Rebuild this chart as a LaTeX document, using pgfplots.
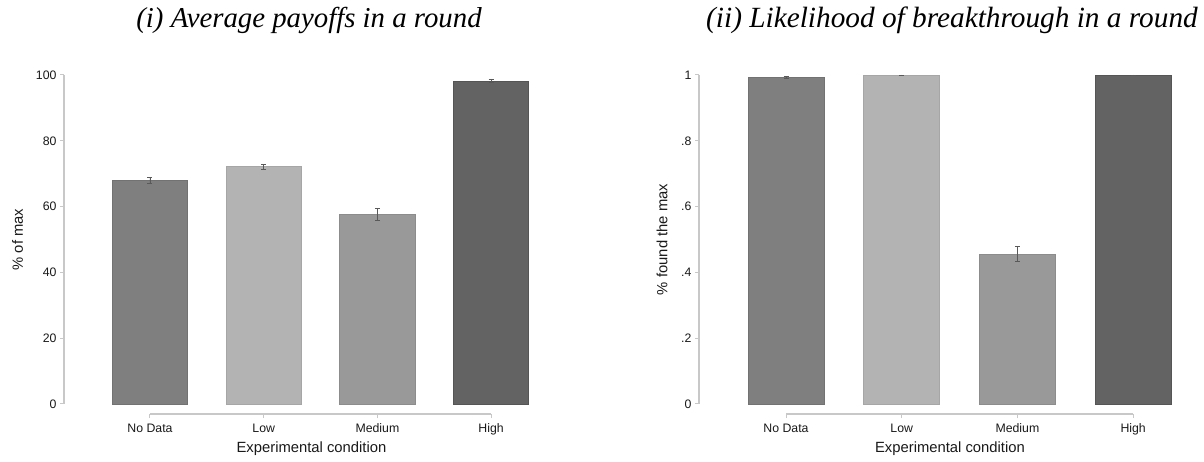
\documentclass[border=0pt]{standalone}
\usepackage{pgfplots}
\pgfplotsset{compat=1.18}
\usepackage{fontspec}
\setmainfont{Liberation Sans}
\newfontfamily\titlefont{Liberation Serif}
\definecolor{axgray}{HTML}{C8C8C8}
\definecolor{cND}{HTML}{7F7F7F}
\definecolor{cLow}{HTML}{B3B3B3}
\definecolor{cMed}{HTML}{999999}
\definecolor{cHigh}{HTML}{636363}
\definecolor{eND}{HTML}{727272}
\definecolor{eLow}{HTML}{A6A6A6}
\definecolor{eMed}{HTML}{8C8C8C}
\definecolor{eHigh}{HTML}{555555}
\begin{document}
\begin{tikzpicture}
\useasboundingbox (0,0) rectangle (1204bp,462bp);
\pgfplotsset{
  statastyle/.style={
    scale only axis,
    anchor=south west,
    height=339bp,
    xmax=3.5,
    clip=false,
    axis x line*=bottom,
    axis y line*=left,
    axis line style={draw=none},
    tick align=outside,
    major tick length=4bp,
    tick style={axgray, line width=1bp},
    xtick={0,1,2,3},
    xticklabels={No Data,Low,Medium,High},
    tick label style={font=\fontsize{12.3bp}{14bp}\selectfont, text=black!90},
    xticklabel style={text height=9bp, text depth=2.6bp, yshift=-1.5bp},
    label style={font=\fontsize{14.8bp}{17bp}\selectfont, text=black!90},
    ybar,
    bar shift=0pt,
    error bars/y dir=both,
    error bars/y explicit,
    error bars/error mark=-,
    error bars/error bar style={black!65, line width=0.8bp},
    error bars/error mark options={rotate=90, black!65, line width=0.8bp, mark size=2.5bp},
  },
}
% ---------- left panel ----------
\begin{axis}[statastyle,
  at={(64bp,48bp)},
  width=484bp,
  xmin=-0.756,
  ymin=-3.04, ymax=100,
  bar width=0.66,
  ytick={0,20,40,60,80,100},
  yticklabels={0,20,40,60,80,100},
  xlabel={Experimental condition},
  xlabel style={at={([yshift=-35bp]axis cs:1.42,-3.04)}, anchor=center},
  ylabel={\% of max},
  ylabel style={at={([xshift=-46.5bp]axis cs:-0.756,50)}, anchor=center},
]
\addplot[fill=cND, draw=eND, line width=0.8bp] coordinates {(0,67.9) +- (0,1.0)};
\addplot[fill=cLow, draw=eLow, line width=0.8bp] coordinates {(1,72.1) +- (0,0.7)};
\addplot[fill=cMed, draw=eMed, line width=0.8bp] coordinates {(2,57.6) +- (0,1.9)};
\addplot[fill=cHigh, draw=eHigh, line width=0.8bp] coordinates {(3,98.2) +- (0,0.6)};
\draw[axgray, line width=1.2bp] (axis cs:0,-3.04) -- (axis cs:3,-3.04);
\draw[axgray, line width=1.2bp] (axis cs:-0.756,0) -- (axis cs:-0.756,100);
\end{axis}
% ---------- right panel ----------
\begin{axis}[statastyle,
  at={(699bp,48bp)},
  width=492bp,
  xmin=-0.752,
  ymin=-0.0304, ymax=1,
  bar width=0.657,
  ytick={0,0.2,0.4,0.6,0.8,1},
  yticklabels={0,.2,.4,.6,.8,1},
  xlabel={Experimental condition},
  xlabel style={at={([yshift=-35bp]axis cs:1.417,-0.0304)}, anchor=center},
  ylabel={\% found the max},
  ylabel style={at={([xshift=-37bp]axis cs:-0.752,0.5)}, anchor=center},
]
\addplot[fill=cND, draw=eND, line width=0.8bp] coordinates {(0,0.993) +- (0,0.003)};
\addplot[fill=cLow, draw=eLow, line width=0.8bp] coordinates {(1,0.999) +- (0,0.001)};
\addplot[fill=cMed, draw=eMed, line width=0.8bp] coordinates {(2,0.456) +- (0,0.022)};
\addplot[fill=cHigh, draw=eHigh, line width=0.8bp] coordinates {(3,0.999) +- (0,0.001)};
\draw[axgray, line width=1.2bp] (axis cs:0,-0.0304) -- (axis cs:3,-0.0304);
\draw[axgray, line width=1.2bp] (axis cs:-0.752,0) -- (axis cs:-0.752,1);
\end{axis}
% ---------- titles ----------
\node[font=\titlefont\itshape\fontsize{28.8bp}{32bp}\selectfont, anchor=base] at (309bp,434bp) {(i) Average payoffs in a round};
\node[font=\titlefont\itshape\fontsize{29.3bp}{32bp}\selectfont, anchor=base] at (952bp,434bp) {(ii) Likelihood of breakthrough in a round};
\end{tikzpicture}
\end{document}
